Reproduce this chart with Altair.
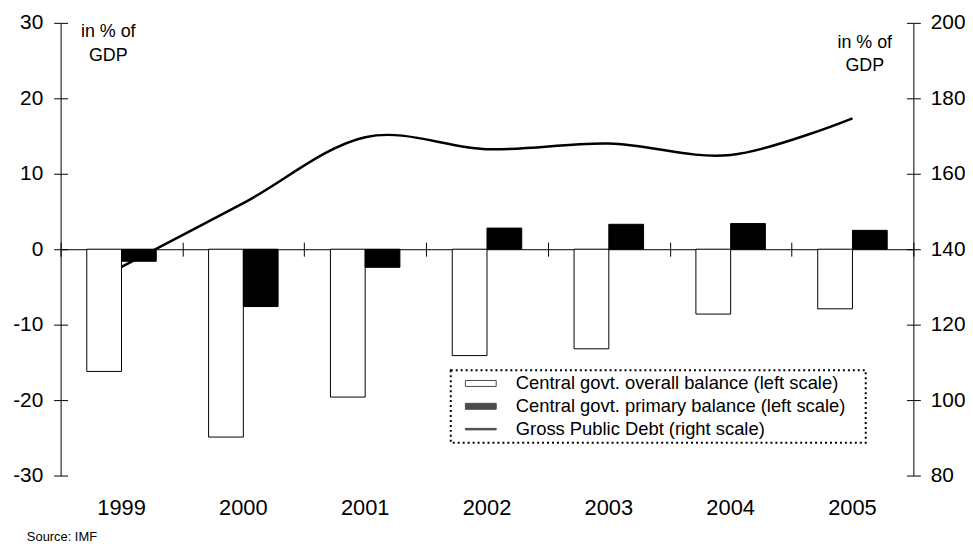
import altair as alt
import pandas as pd

# ---------------- data ----------------
years = ["1999", "2000", "2001", "2002", "2003", "2004", "2005"]
overall_balance = [-16.2, -24.9, -19.6, -14.1, -13.2, -8.6, -7.9]
primary_balance = [-1.6, -7.6, -2.4, 2.8, 3.3, 3.4, 2.5]
gross_debt = [135.3, 152.2, 169.7, 166.5, 168.0, 165.0, 174.7]
series_names = [
    "Central govt. overall balance (left scale)",
    "Central govt. primary balance (left scale)",
    "Gross Public Debt (right scale)",
]
left_ticks = [-30, -20, -10, 0, 10, 20, 30]
right_ticks = [80, 100, 120, 140, 160, 180, 200]
unit_label = "in % of\nGDP"
source_label = "Source: IMF"

# ---------------- layout ----------------
W, H = 859, 456
FONT = "Liberation Sans"
YLAB = 21

bars_df = pd.DataFrame({
    "year": years * 2,
    "series": [series_names[0]] * len(years) + [series_names[1]] * len(years),
    "value": overall_balance + primary_balance,
})
debt_df = pd.DataFrame({"year": years, "debt": gross_debt, "overall": overall_balance})
legend_df = pd.DataFrame({"entry": series_names})
one_df = pd.DataFrame({"k": [0]})

xscale = alt.Scale(domain=years, paddingInner=0, paddingOuter=0)
yleft = alt.Scale(domain=[-30, 30], nice=False, zero=False)
yright = alt.Scale(domain=[80, 200], nice=False, zero=False)
plain_num = "'' + datum.value"

bars = alt.Chart(bars_df).mark_bar(stroke="black", strokeWidth=1).encode(
    x=alt.X("year:N", scale=xscale, sort=years,
            axis=alt.Axis(orient="bottom", domain=False, ticks=False, tickSize=0,
                          labelPadding=22, labelAngle=0, labelFontSize=22, title=None)),
    xOffset=alt.XOffset("series:N", sort=series_names[:2],
                        scale=alt.Scale(domain=series_names[:2], paddingInner=0, paddingOuter=0.753)),
    y=alt.Y("value:Q", scale=yleft,
            axis=alt.Axis(orient="left", values=left_ticks, tickSize=7, labelPadding=11,
                          domain=True, grid=False, title=None, labelFontSize=YLAB,
                          labelExpr=plain_num)),
    fill=alt.Fill("series:N", scale=alt.Scale(domain=series_names[:2], range=["white", "black"]),
                  legend=None),
)

line = alt.Chart(debt_df).mark_line(color="black", strokeWidth=2.5,
                                    interpolate="cardinal", tension=0).encode(
    x=alt.X("year:N", scale=xscale, sort=years, axis=None),
    y=alt.Y("debt:Q", scale=yright,
            axis=alt.Axis(orient="right", values=right_ticks, tickSize=7, labelPadding=10,
                          domain=True, grid=False, title=None, labelFontSize=YLAB,
                          labelExpr=plain_num)),
)

# inner halves of the crossing ticks + zero line
inner_left = alt.Chart(debt_df).mark_point(opacity=0).encode(
    x=alt.X("year:N", scale=xscale, sort=years,
            axis=alt.Axis(orient="bottom", offset=-H / 2, domain=True, ticks=True, tickSize=7,
                          tickBand="extent", labels=False, title=None)),
    y=alt.Y("overall:Q", scale=yleft,
            axis=alt.Axis(orient="left", offset=-7, values=left_ticks, tickSize=7,
                          domain=False, labels=False, grid=False, title=None)),
)
inner_right = alt.Chart(debt_df).mark_point(opacity=0).encode(
    x=alt.X("year:N", scale=xscale, sort=years,
            axis=alt.Axis(orient="top", offset=-H / 2, domain=False, ticks=True, tickSize=7,
                          tickBand="extent", labels=False, title=None)),
    y=alt.Y("debt:Q", scale=yright,
            axis=alt.Axis(orient="right", offset=-7, values=right_ticks, tickSize=7,
                          domain=False, labels=False, grid=False, title=None)),
)

rect_path = "M-2.07,-0.4H2.07V0.4H-2.07Z"
line_path = "M-2.07,-0.1H2.07V0.1H-2.07Z"
leg = alt.Legend(orient="none", legendX=393, legendY=350, title="\u00a0",
                 titleOrient="right", titlePadding=16)
legend_pts = alt.Chart(legend_df).mark_point(filled=True, size=0, stroke="black",
                                             strokeWidth=1).encode(
    color=alt.Color("entry:N", sort=series_names,
                    scale=alt.Scale(domain=series_names, range=["white", "black", "black"]),
                    legend=leg),
    shape=alt.Shape("entry:N", sort=series_names,
                    scale=alt.Scale(domain=series_names, range=[rect_path, rect_path, line_path]),
                    legend=leg),
)

left_unit = alt.Chart(one_df).mark_text(
    font=FONT, fontSize=18, align="center", baseline="top", lineBreak="\n", lineHeight=24,
    color="black").encode(x=alt.value(48), y=alt.value(0), text=alt.value(unit_label))
right_unit = alt.Chart(one_df).mark_text(
    font=FONT, fontSize=18, align="center", baseline="top", lineBreak="\n", lineHeight=24,
    color="black").encode(x=alt.value(810), y=alt.value(11), text=alt.value(unit_label))
source = alt.Chart(one_df).mark_text(
    font=FONT, fontSize=13, align="left", baseline="middle", color="black").encode(
    x=alt.value(-34), y=alt.value(518), text=alt.value(source_label))

chart = alt.layer(
    bars, line, inner_left, inner_right, legend_pts, left_unit, right_unit, source
).resolve_scale(
    y="independent"
).resolve_axis(
    x="independent", y="independent"
).properties(
    width=W, height=H,
    autosize=alt.AutoSizeParams(type="none"),
    padding={"left": 53, "top": 13, "right": 52, "bottom": 70},
    background="white",
).configure_view(
    stroke=None
).configure_axis(
    labelFont=FONT, labelColor="black", domainColor="black", tickColor="black",
    domainWidth=1, tickWidth=1,
).configure_legend(
    strokeColor="black", strokeDash=[2, 3], strokeWidth=2, padding=4, cornerRadius=0,
    fillColor="white", labelFont=FONT, labelFontSize=18.5, labelColor="black", labelLimit=700,
    titleFont=FONT, titleFontSize=18,
    symbolSize=225, rowPadding=4, symbolOffset=17, labelOffset=26,
    symbolStrokeColor="black", symbolStrokeWidth=1,
)

chart.save("out.html", embed_options={"renderer": "svg", "actions": False})
